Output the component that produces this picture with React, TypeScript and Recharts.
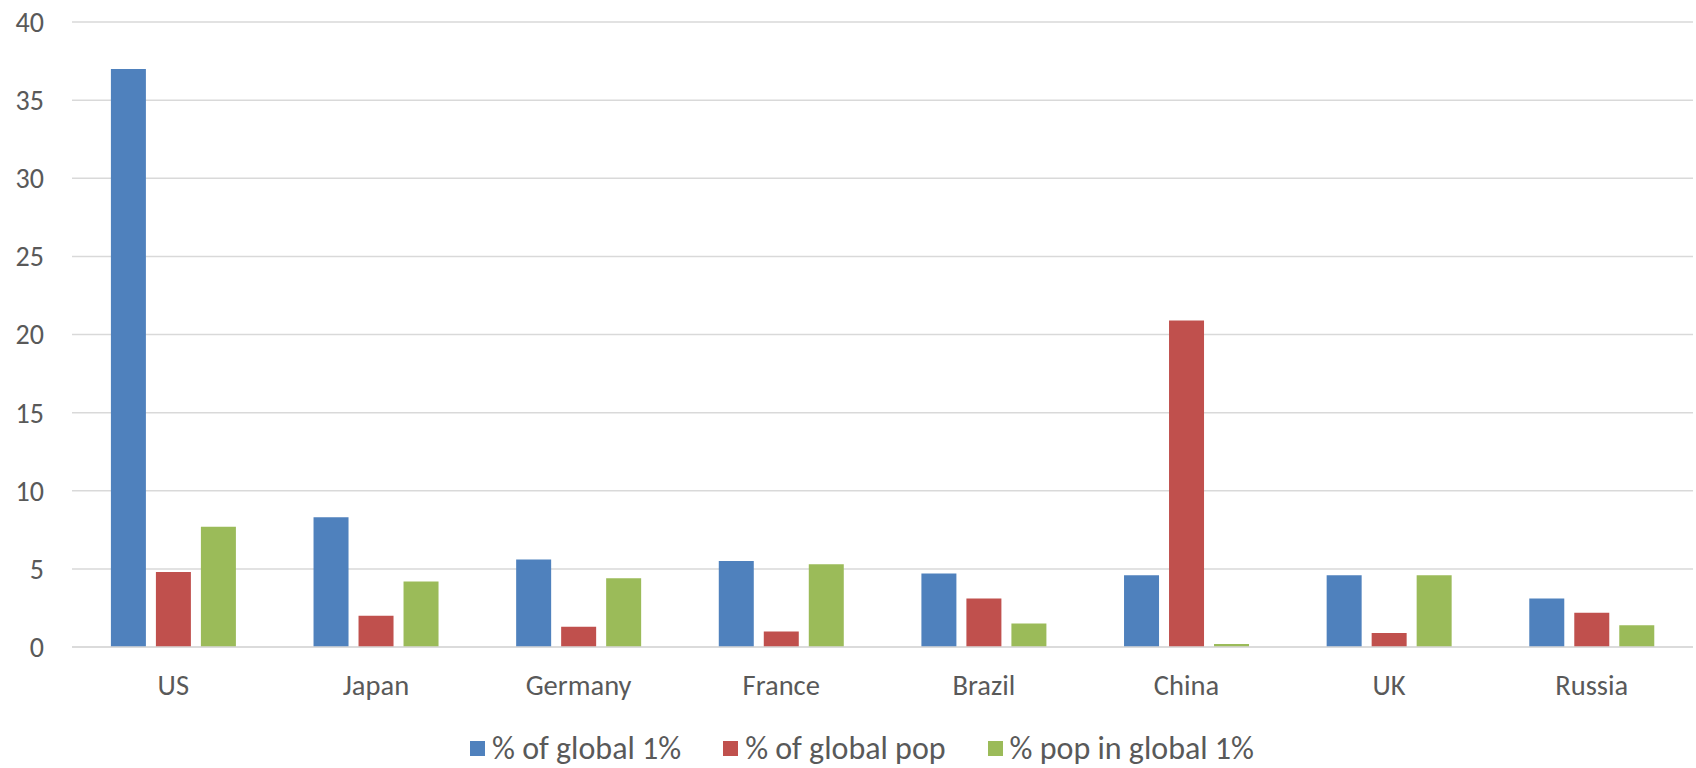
import { BarChart, Bar, XAxis, YAxis, CartesianGrid, Legend } from 'recharts';

// countries along the x axis
const countries = ['US', 'Japan', 'Germany', 'France', 'Brazil', 'China', 'UK', 'Russia'];

// share of the global top 1% living in each country
const shareOfGlobal1 = [37, 8.3, 5.6, 5.5, 4.7, 4.6, 4.6, 3.1];
// share of world population
const shareOfGlobalPop = [4.8, 2.0, 1.3, 1.0, 3.1, 20.9, 0.9, 2.2];
// share of the country's own population that is in the global top 1%
const popInGlobal1 = [7.7, 4.2, 4.4, 5.3, 1.5, 0.2, 4.6, 1.4];

const yTicks = [0, 5, 10, 15, 20, 25, 30, 35, 40];

const data = countries.map((c, i) => ({
    country: c,
    g1: shareOfGlobal1[i],
    pop: shareOfGlobalPop[i],
    inG1: popInGlobal1[i],
}));

const FONT = "Calibri, Carlito, Lato, sans-serif";
const TEXT = "#595959";

const LegendRow = ({ payload }: any) => (
    <div style={{ display: "flex", justifyContent: "center", paddingLeft: 28, fontFamily: FONT, fontSize: 32, color: TEXT }}>
        {(payload || []).map((p: any) => (
            <div key={p.value} style={{ display: "flex", alignItems: "center", margin: "0 21px" }}>
                <span style={{ width: 15, height: 15, background: p.color, marginRight: 7, display: "inline-block" }} />
                <span>{p.value}</span>
            </div>
        ))}
    </div>
);

export default function App() {
    return (
        <div style={{ position: "absolute", left: 0, top: 0, width: 1696, height: 768, background: "#fff" }}>
            <BarChart
                width={1696}
                height={768}
                data={data}
                margin={{ top: 22, right: 3, bottom: 61, left: 0 }}
                barCategoryGap="19.2%"
                barGap={10}
            >
                <CartesianGrid vertical={false} stroke="#D9D9D9" strokeWidth={1.5} />
                <XAxis
                    dataKey="country"
                    height={60}
                    axisLine={{ stroke: "#D9D9D9", strokeWidth: 1.5 }}
                    tickLine={false}
                    tickSize={0}
                    tickMargin={28}
                    tick={{ fill: TEXT, fontSize: 28.5, fontFamily: FONT }}
                />
                <YAxis
                    width={72}
                    domain={[0, 40]}
                    ticks={yTicks}
                    axisLine={false}
                    tickLine={false}
                    tickSize={0}
                    tickMargin={28}
                    tick={{ fill: TEXT, fontSize: 28, fontFamily: FONT }}
                />
                <Legend
                    verticalAlign="middle"
                    align="center"
                    wrapperStyle={{ top: 729, left: 0, width: 1696 }}
                    content={LegendRow}
                />
                <Bar dataKey="g1" name="% of global 1%" fill="#4F81BD" isAnimationActive={false} />
                <Bar dataKey="pop" name="% of global pop" fill="#C0504D" isAnimationActive={false} />
                <Bar dataKey="inG1" name="% pop in global 1%" fill="#9BBB59" isAnimationActive={false} />
            </BarChart>
        </div>
    );
}
